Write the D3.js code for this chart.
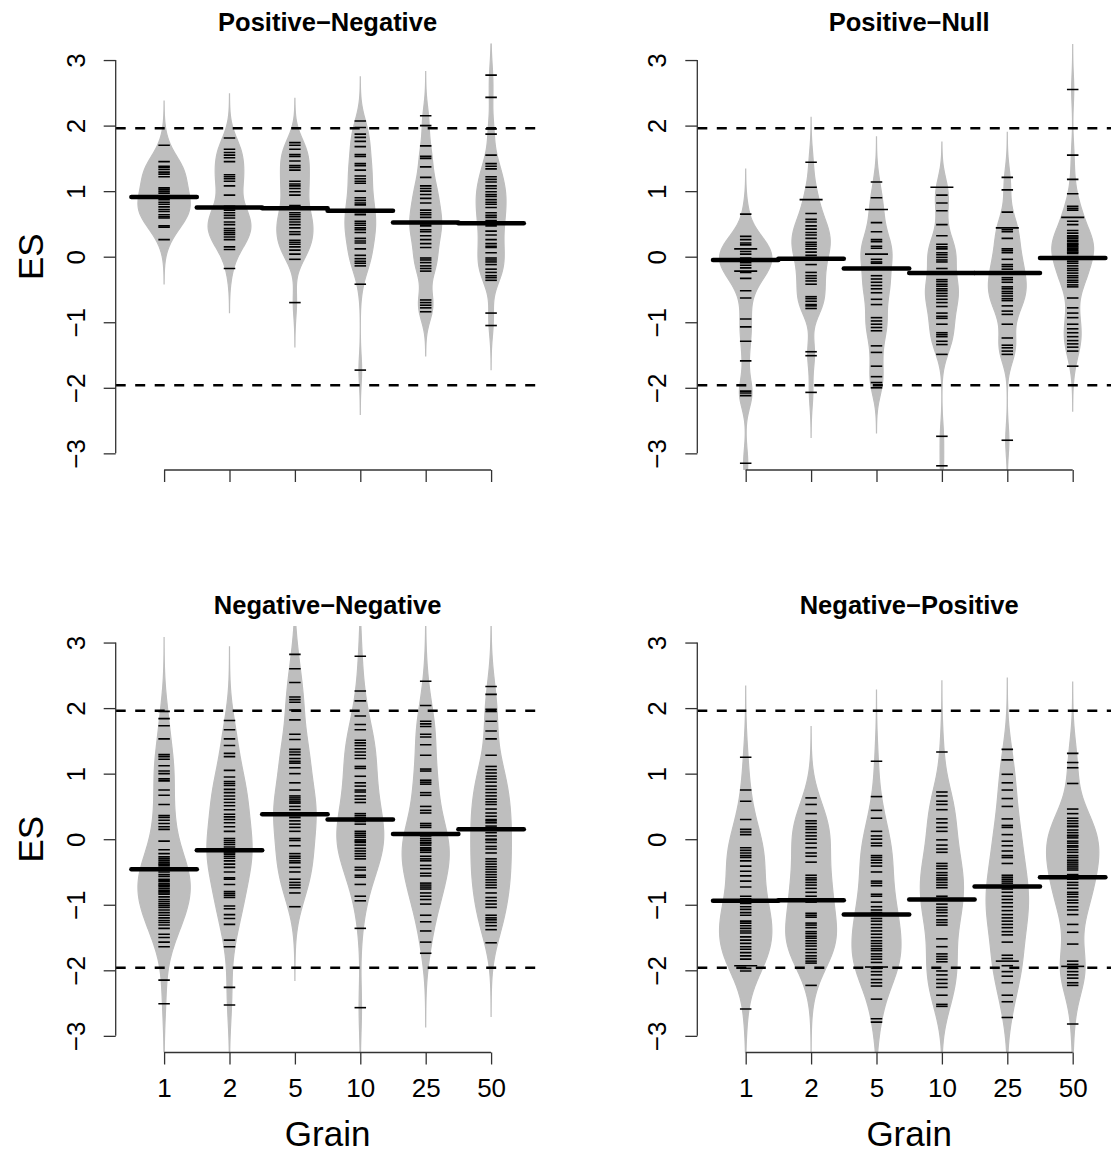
<!DOCTYPE html>
<html>
<head>
<meta charset="utf-8">
<script src="https://cdn.jsdelivr.net/npm/d3@7"></script>
<style>
  body { margin: 0; background: #fff; }
  svg { display: block; }
  text { font-family: "Liberation Sans", Arial, sans-serif; }
</style>
</head>
<body>
<div id="chart"></div>
<script>
// categories, ticks and reference lines
const grains = ["1", "2", "5", "10", "25", "50"];
const panelTitles = ["Positive\u2212Negative", "Positive\u2212Null", "Negative\u2212Negative", "Negative\u2212Positive"];
const yTicks = [-3, -2, -1, 0, 1, 2, 3];
const criticalES = [-1.96, 1.96];
// kernel bandwidth of each panel (one per beanplot)
const bandwidths = [0.225, 0.229, 0.375, 0.362];

// mean line of each bean
const posNegMeans = [0.91, 0.75, 0.74, 0.70, 0.52, 0.51];
const posNullMeans = [-0.05, -0.03, -0.18, -0.25, -0.25, -0.02];
const negNegMeans = [-0.46, -0.17, 0.38, 0.30, 0.08, 0.15];
const negPosMeans = [-0.94, -0.93, -1.15, -0.92, -0.72, -0.58];

// single observations (effect sizes), one list per grain
const posNegObs = [
  [1.70,1.45,1.38,1.36,1.33,1.29,1.26,1.22,1.05,1.03,1.00,0.97,0.87,0.83,0.80,0.76,0.72,0.69,0.64,0.61,0.59,0.47,0.45,0.26],
  [1.81,1.64,1.59,1.55,1.51,1.45,1.25,1.22,1.19,1.15,1.08,0.94,0.77,0.71,0.67,0.63,0.59,0.53,0.49,0.43,0.40,0.37,0.34,0.30,0.26,0.15,0.11,-0.18],
  [1.74,1.70,1.64,1.56,1.53,1.46,1.39,1.36,1.32,1.15,1.11,1.08,1.04,0.99,0.94,0.78,0.67,0.64,0.61,0.57,0.53,0.49,0.44,0.38,0.34,0.25,0.22,0.19,0.15,0.10,0.04,-0.04,-0.70],
  [2.07,1.97,1.87,1.82,1.76,1.68,1.56,1.53,1.42,1.39,1.32,1.23,1.19,1.15,1.12,1.00,0.90,0.86,0.82,0.79,0.71,0.67,0.64,0.54,0.51,0.48,0.44,0.41,0.37,0.28,0.24,0.21,0.12,0.02,-0.03,-0.07,-0.10,-0.14,-0.42,-1.73],
  [2.15,2.00,1.69,1.53,1.50,1.37,1.21,1.08,1.04,1.00,0.95,0.89,0.82,0.71,0.67,0.64,0.60,0.53,0.50,0.47,0.41,0.38,0.32,0.26,0.20,0.14,-0.02,-0.05,-0.09,-0.14,-0.18,-0.22,-0.66,-0.70,-0.74,-0.78,-0.84],
  [2.77,2.43,1.95,1.87,1.55,1.42,1.38,1.34,1.22,1.18,1.14,1.08,1.04,0.99,0.95,0.92,0.87,0.83,0.80,0.75,0.67,0.63,0.60,0.55,0.52,0.47,0.39,0.33,0.26,0.20,0.16,0.14,0.06,-0.02,-0.05,-0.08,-0.12,-0.19,-0.24,-0.29,-0.32,-0.36,-0.86,-1.05]
];
const posNullObs = [
  [0.65,0.31,0.26,0.21,0.18,0.12,0.12,0.08,0.04,-0.02,-0.05,-0.09,-0.13,-0.17,-0.22,-0.22,-0.24,-0.33,-0.52,-0.63,-0.95,-1.07,-1.29,-1.59,-2.05,-2.08,-2.12,-3.15],
  [1.44,1.06,0.87,0.87,0.66,0.57,0.53,0.47,0.42,0.37,0.33,0.28,0.22,0.19,0.16,0.12,0.07,0.02,-0.02,-0.12,-0.24,-0.29,-0.33,-0.37,-0.42,-0.61,-0.64,-0.68,-0.73,-0.75,-0.79,-1.45,-1.51,-2.07],
  [1.14,0.90,0.72,0.72,0.52,0.38,0.26,0.23,0.16,0.13,0.04,0.04,-0.04,-0.08,-0.10,-0.29,-0.34,-0.39,-0.44,-0.49,-0.55,-0.65,-0.73,-0.93,-0.98,-1.03,-1.08,-1.13,-1.36,-1.46,-1.67,-1.83,-1.92,-2.00],
  [1.06,1.06,0.94,0.82,0.70,0.49,0.32,0.19,0.15,0.12,0.06,0.03,-0.01,-0.05,-0.08,-0.18,-0.35,-0.38,-0.42,-0.45,-0.49,-0.52,-0.56,-0.60,-0.65,-0.70,-0.76,-0.86,-0.91,-0.94,-1.03,-1.16,-1.19,-1.22,-1.29,-1.34,-1.49,-2.74,-3.19],
  [1.21,1.02,0.68,0.44,0.44,0.41,0.38,0.28,0.12,0.09,0.06,-0.04,-0.12,-0.15,-0.19,-0.23,-0.32,-0.35,-0.39,-0.46,-0.49,-0.53,-0.56,-0.60,-0.64,-0.67,-0.75,-0.83,-0.88,-1.03,-1.24,-1.35,-1.39,-1.44,-1.49,-2.80],
  [2.55,1.55,1.18,0.96,0.77,0.74,0.71,0.60,0.60,0.54,0.49,0.40,0.36,0.32,0.30,0.28,0.25,0.23,0.20,0.19,0.17,0.15,0.13,0.11,0.09,0.07,0.05,0.00,-0.04,-0.07,-0.10,-0.14,-0.18,-0.21,-0.25,-0.29,-0.32,-0.36,-0.39,-0.43,-0.46,-0.63,-0.78,-0.86,-0.93,-1.03,-1.10,-1.16,-1.22,-1.28,-1.33,-1.38,-1.44,-1.67]
];
const negNegObs = [
  [1.95,1.84,1.73,1.53,1.29,1.26,1.22,1.12,1.04,1.00,0.92,0.89,0.75,0.67,0.53,0.36,0.33,0.29,0.24,0.19,0.15,-0.03,-0.16,-0.22,-0.27,-0.30,-0.33,-0.36,-0.38,-0.40,-0.43,-0.46,-0.50,-0.54,-0.57,-0.61,-0.63,-0.65,-0.68,-0.70,-0.72,-0.75,-0.78,-0.80,-0.82,-0.84,-0.88,-0.92,-0.95,-0.98,-1.01,-1.04,-1.08,-1.12,-1.16,-1.20,-1.24,-1.27,-1.31,-1.36,-1.45,-1.50,-1.57,-1.64,-2.15,-2.51],
  [1.81,1.67,1.53,1.43,1.31,1.26,1.05,0.95,0.88,0.85,0.82,0.76,0.71,0.66,0.61,0.56,0.51,0.45,0.38,0.34,0.30,0.25,0.19,0.12,0.01,-0.02,-0.05,-0.08,-0.12,-0.16,-0.19,-0.21,-0.23,-0.26,-0.29,-0.33,-0.38,-0.43,-0.50,-0.59,-0.61,-0.69,-0.80,-0.83,-0.86,-0.89,-1.02,-1.06,-1.15,-1.21,-1.30,-1.54,-1.64,-2.26,-2.53],
  [2.82,2.60,2.39,2.17,2.13,2.09,1.97,1.82,1.60,1.52,1.37,1.33,1.29,1.23,1.19,1.16,1.09,1.00,0.86,0.75,0.66,0.63,0.60,0.57,0.55,0.50,0.45,0.40,0.36,0.33,0.28,0.23,0.18,0.12,0.01,-0.02,-0.10,-0.22,-0.26,-0.29,-0.33,-0.36,-0.43,-0.50,-0.61,-0.66,-0.70,-0.74,-0.82,-1.03],
  [2.79,2.26,2.11,1.88,1.75,1.67,1.51,1.47,1.43,1.38,1.33,1.28,1.23,1.11,1.08,0.96,0.86,0.81,0.75,0.72,0.66,0.61,0.56,0.39,0.36,0.33,0.30,0.27,0.23,0.12,0.09,0.06,0.03,-0.01,-0.03,-0.05,-0.09,-0.14,-0.18,-0.22,-0.26,-0.30,-0.43,-0.47,-0.55,-0.58,-0.69,-0.87,-0.94,-1.36,-2.57],
  [2.41,2.04,1.80,1.76,1.72,1.60,1.56,1.44,1.28,1.07,1.04,0.90,0.87,0.84,0.71,0.67,0.50,0.44,0.40,0.24,0.21,0.18,0.05,0.01,-0.02,-0.05,-0.06,-0.09,-0.13,-0.15,-0.17,-0.20,-0.26,-0.30,-0.33,-0.40,-0.45,-0.52,-0.56,-0.67,-0.70,-0.73,-0.76,-0.82,-0.87,-0.92,-0.99,-1.16,-1.26,-1.40,-1.57,-1.74],
  [2.33,2.21,1.98,1.95,1.80,1.65,1.53,1.28,1.11,1.06,1.01,0.96,0.92,0.87,0.81,0.76,0.71,0.66,0.61,0.57,0.53,0.46,0.40,0.35,0.30,0.28,0.25,0.20,0.15,0.10,0.05,0.00,-0.01,-0.05,-0.11,-0.15,-0.21,-0.30,-0.34,-0.38,-0.42,-0.46,-0.50,-0.54,-0.58,-0.62,-0.66,-0.70,-0.74,-0.82,-0.89,-0.94,-0.99,-1.04,-1.16,-1.20,-1.23,-1.27,-1.32,-1.38,-1.58]
];
const negPosObs = [
  [1.25,0.75,0.58,0.30,0.15,0.11,0.07,-0.13,-0.17,-0.21,-0.25,-0.28,-0.33,-0.41,-0.49,-0.56,-0.64,-0.73,-0.87,-0.91,-0.98,-1.03,-1.07,-1.12,-1.16,-1.25,-1.28,-1.32,-1.36,-1.40,-1.43,-1.49,-1.54,-1.59,-1.64,-1.68,-1.73,-1.78,-1.83,-1.93,-1.93,-1.97,-2.01,-2.59],
  [0.63,0.53,0.39,0.28,0.24,0.19,0.15,0.10,0.05,0.00,-0.06,-0.13,-0.21,-0.26,-0.35,-0.55,-0.59,-0.62,-0.66,-0.70,-0.75,-0.81,-0.87,-0.91,-0.96,-1.13,-1.16,-1.19,-1.28,-1.31,-1.35,-1.41,-1.44,-1.48,-1.51,-1.55,-1.59,-1.63,-1.68,-1.73,-1.78,-1.82,-1.86,-1.89,-2.23],
  [1.19,0.65,0.44,0.32,0.12,0.05,0.00,-0.06,-0.10,-0.25,-0.28,-0.32,-0.36,-0.41,-0.50,-0.64,-0.67,-0.71,-0.84,-0.87,-0.96,-1.03,-1.08,-1.12,-1.16,-1.21,-1.25,-1.30,-1.35,-1.40,-1.45,-1.50,-1.55,-1.59,-1.63,-1.67,-1.70,-1.75,-1.79,-1.83,-1.88,-1.95,-1.95,-1.97,-2.02,-2.07,-2.14,-2.19,-2.24,-2.44,-2.74,-2.79],
  [1.33,0.72,0.66,0.58,0.53,0.45,0.31,0.25,0.18,0.12,-0.01,-0.09,-0.15,-0.20,-0.37,-0.41,-0.45,-0.51,-0.55,-0.59,-0.62,-0.66,-0.70,-0.74,-0.87,-0.92,-0.99,-1.04,-1.08,-1.12,-1.17,-1.23,-1.27,-1.31,-1.52,-1.64,-1.75,-1.79,-1.83,-1.87,-2.01,-2.07,-2.14,-2.20,-2.26,-2.38,-2.52,-2.55],
  [1.37,1.21,0.99,0.86,0.75,0.62,0.50,0.31,0.21,0.18,0.07,-0.03,-0.10,-0.18,-0.25,-0.28,-0.37,-0.55,-0.58,-0.61,-0.64,-0.67,-0.76,-0.81,-0.87,-0.92,-0.97,-1.03,-1.09,-1.15,-1.20,-1.25,-1.30,-1.35,-1.41,-1.46,-1.57,-1.77,-1.82,-1.86,-1.86,-1.93,-2.02,-2.09,-2.19,-2.38,-2.48,-2.72],
  [1.31,1.17,1.09,0.85,0.46,0.39,0.32,0.28,0.24,0.20,0.19,0.14,0.10,0.06,0.05,0.02,-0.03,-0.06,-0.10,-0.12,-0.16,-0.20,-0.25,-0.28,-0.32,-0.35,-0.38,-0.41,-0.44,-0.47,-0.54,-0.61,-0.66,-0.70,-0.75,-0.81,-0.84,-0.88,-0.93,-0.97,-1.03,-1.08,-1.15,-1.30,-1.42,-1.60,-1.86,-1.91,-1.94,-1.94,-1.97,-2.02,-2.07,-2.12,-2.19,-2.23,-2.82]
];

const width = 1111, height = 1157;
const unitX = 65.4, unitY = 65.55;

const svg = d3.select("#chart")
  .append("svg")
  .attr("width", width)
  .attr("height", height);

const panels = [
  { title: panelTitles[0], obs: posNegObs,  means: posNegMeans,  bw: bandwidths[0], left: 115.7, bottom: 470,    yLabel: true,  xLabels: false },
  { title: panelTitles[1], obs: posNullObs, means: posNullMeans, bw: bandwidths[1], left: 697.3, bottom: 470,    yLabel: false, xLabels: false },
  { title: panelTitles[2], obs: negNegObs,  means: negNegMeans,  bw: bandwidths[2], left: 115.7, bottom: 1052.5, yLabel: true,  xLabels: true },
  { title: panelTitles[3], obs: negPosObs,  means: negPosMeans,  bw: bandwidths[3], left: 697.3, bottom: 1052.5, yLabel: false, xLabels: true }
];

// gaussian kernel density, cut at 3 bandwidths beyond the extremes (like R density(cut = 3))
function kde(values, bw) {
  const lo = d3.min(values) - 3 * bw, hi = d3.max(values) + 3 * bw;
  const n = 300, k = 1 / (values.length * bw * Math.sqrt(2 * Math.PI));
  return d3.range(n + 1).map(i => {
    const v = lo + (hi - lo) * i / n;
    return { v, d: k * d3.sum(values, x => Math.exp(-0.5 * ((v - x) / bw) ** 2)) };
  });
}

const font = '"Liberation Sans", Arial, sans-serif';

panels.forEach((p, pi) => {
  const x = d3.scaleLinear().domain([0.26, 6.74]).range([p.left, p.left + 6.48 * unitX]);
  const y = d3.scaleLinear().domain([-3.254, 3.254]).range([p.bottom, p.bottom - 6.508 * unitY]);
  const g = svg.append("g");

  const clipId = "clip" + pi;
  svg.append("clipPath").attr("id", clipId)
    .append("rect")
    .attr("x", x.range()[0]).attr("y", y.range()[1])
    .attr("width", x.range()[1] - x.range()[0])
    .attr("height", y.range()[0] - y.range()[1]);

  const plot = g.append("g").attr("clip-path", `url(#${clipId})`);

  // densities, all beans of a panel share one width scale
  const dens = p.obs.map(o => kde(o, p.bw));
  const maxD = d3.max(dens, ds => d3.max(ds, d => d.d));
  const half = d => 0.4 * d.d / maxD;

  dens.forEach((ds, i) => {
    const cx = i + 1;
    const area = d3.area()
      .y(d => y(d.v))
      .x0(d => x(cx - half(d)))
      .x1(d => x(cx + half(d)));
    plot.append("path")
      .datum(ds)
      .attr("d", area)
      .attr("fill", "#bebebe")
      .attr("stroke", "#bebebe")
      .attr("stroke-width", 1.2);
  });

  // bean lines for single observations, longer when a value repeats
  p.obs.forEach((o, i) => {
    const cx = i + 1;
    const counts = d3.rollups(o, v => v.length, d => d);
    plot.selectAll(null)
      .data(counts)
      .enter()
      .append("line")
      .attr("x1", d => x(cx - 0.088 * d[1]))
      .attr("x2", d => x(cx + 0.088 * d[1]))
      .attr("y1", d => y(d[0]))
      .attr("y2", d => y(d[0]))
      .attr("stroke", "#000")
      .attr("stroke-width", 1.6);
  });

  // mean lines
  plot.selectAll(null)
    .data(p.means)
    .enter()
    .append("line")
    .attr("x1", (d, i) => x(i + 1 - 0.5))
    .attr("x2", (d, i) => x(i + 1 + 0.5))
    .attr("y1", d => y(d))
    .attr("y2", d => y(d))
    .attr("stroke", "#000")
    .attr("stroke-width", 4.5)
    .attr("stroke-linecap", "round");

  // dashed lines at +-1.96
  plot.selectAll(null)
    .data(criticalES)
    .enter()
    .append("line")
    .attr("x1", x.range()[0])
    .attr("x2", x.range()[1])
    .attr("y1", d => y(d))
    .attr("y2", d => y(d))
    .attr("stroke", "#000")
    .attr("stroke-width", 2.4)
    .attr("stroke-dasharray", "10,9.5");

  // y axis
  const ya = g.append("g")
    .attr("transform", `translate(${p.left},0)`)
    .call(d3.axisLeft(y).tickValues(yTicks).tickSize(12).tickSizeOuter(0).tickFormat(d3.format("d")));
  ya.select(".domain").remove();
  ya.append("line")
    .attr("y1", y(-3)).attr("y2", y(3))
    .attr("stroke", "#333").attr("stroke-width", 1.3);
  ya.selectAll(".tick line").attr("stroke", "#333").attr("stroke-width", 1.3);
  ya.selectAll(".tick text")
    .attr("x", null).attr("dy", null)
    .attr("text-anchor", "middle")
    .attr("transform", "translate(-31,0) rotate(-90)")
    .attr("fill", "#000")
    .style("font-size", "26px")
    .style("font-family", font);

  // x axis
  const xa = g.append("g")
    .attr("transform", `translate(0,${p.bottom})`)
    .call(d3.axisBottom(x).tickValues(d3.range(1, 7)).tickSize(12).tickSizeOuter(0)
      .tickFormat((d, i) => p.xLabels ? grains[i] : ""));
  xa.select(".domain").remove();
  xa.append("line")
    .attr("x1", x(1)).attr("x2", x(6))
    .attr("stroke", "#333").attr("stroke-width", 1.3);
  xa.selectAll(".tick line").attr("stroke", "#333").attr("stroke-width", 1.3);
  xa.selectAll(".tick text")
    .attr("dy", null).attr("y", 44)
    .attr("fill", "#000")
    .style("font-size", "26px")
    .style("font-family", font);

  const cxPlot = (x.range()[0] + x.range()[1]) / 2;
  const cyPlot = y(0);

  // panel title
  g.append("text")
    .attr("x", cxPlot)
    .attr("y", p.bottom - 439)
    .attr("text-anchor", "middle")
    .style("font-size", "25.5px")
    .style("font-weight", "bold")
    .text(p.title);

  if (p.yLabel) {
    g.append("text")
      .attr("transform", `translate(43,${cyPlot}) rotate(-90)`)
      .attr("text-anchor", "middle")
      .style("font-size", "35px")
      .text("ES");
  }
  if (p.xLabels) {
    g.append("text")
      .attr("x", cxPlot)
      .attr("y", p.bottom + 93)
      .attr("text-anchor", "middle")
      .style("font-size", "35px")
      .text("Grain");
  }
});
</script>
</body>
</html>
